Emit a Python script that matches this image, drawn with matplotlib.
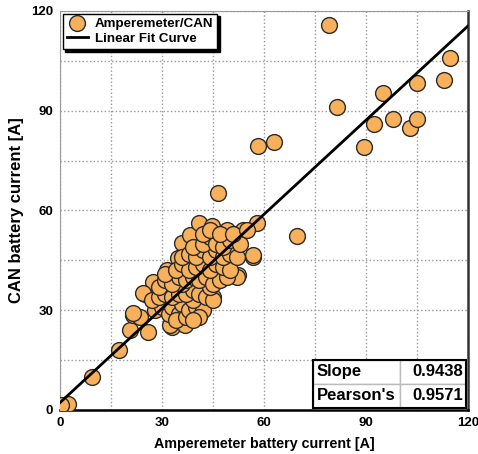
import numpy as np
import matplotlib
matplotlib.use("Agg")
import matplotlib.pyplot as plt
from matplotlib.patches import Rectangle

plt.rcParams['font.family'] = ['Liberation Sans', 'DejaVu Sans']
plt.rcParams['font.weight'] = 'bold'

# ammeter vs CAN readings [A]
amp_meas = [0.5, 1.5, 2.5, 0.3, 9.5, 17.5, 20.5, 21.5, 23.5, 26.0, 25.0, 28.0, 31.4, 32.8,
            34.8, 35.8, 38.2, 40.9, 44.6, 46.6, 49.0, 53.8, 57.9, 56.9, 52.4, 56.8,
            58.2, 63.0, 69.6, 79.1, 81.6, 89.4, 92.4, 95.1, 97.9, 102.9, 104.9, 105.0, 113.0, 114.7,
            27.5, 24.5, 33.3, 21.5, 52.0, 47.0, 45.1, 41.2, 32.4, 36.8,
            28, 30, 32, 33, 35, 36, 34, 37, 38, 40, 42, 39, 41, 39,
            27, 29, 31, 33, 35, 37, 39, 41, 43, 45, 36, 44,
            29, 31, 33, 35, 37, 39, 41, 43, 45, 47, 49,
            31, 34, 36, 38, 40, 42, 44, 46, 48, 50,
            36, 38, 40, 42, 44, 46, 48, 50, 52,
            39, 42, 44, 46, 48, 50, 53,
            42, 44, 47, 51, 55]
can_meas = [0.5, 1.2, 1.8, 1.5, 10.0, 18.0, 24.0, 28.6, 28.0, 23.5, 35.0, 38.0, 42.0, 25.0,
            45.6, 50.1, 52.6, 56.3, 55.4, 65.2, 54.0, 54.0, 56.3, 46.1, 40.6, 46.6,
            79.4, 80.5, 52.3, 115.8, 91.1, 79.1, 86.0, 95.4, 87.6, 84.9, 87.6, 98.4, 99.2, 105.9,
            38.6, 35.1, 38.6, 29.2, 40.1, 41.1, 34.1, 31.0, 25.6, 25.6,
            30, 31, 29, 31, 29, 32, 27, 28, 30, 31, 30, 33, 28, 27,
            33, 34, 35, 34, 35, 35, 36, 35, 34, 33, 38, 37,
            37, 39, 38, 40, 39, 40, 39, 40, 38, 39, 40,
            41, 42, 44, 42, 43, 44, 42, 44, 43, 42,
            46, 47, 46, 48, 46, 48, 46, 47, 46,
            49, 50, 52, 50, 49, 51, 50,
            53, 54, 53, 53, 54]

fit_slope = 0.9438
fit_intercept = 2.2
pearson = 0.9571
ticks = [0, 30, 60, 90, 120]

fig = plt.figure(figsize=(4.78, 4.54), dpi=100)
ax = fig.add_axes([0.1255, 0.097, 0.8535, 0.879])

ax.scatter(amp_meas, can_meas, s=130, color='#F8B05A', edgecolor='#2a2a2a',
           linewidth=1.0, zorder=3, label='Amperemeter/CAN')
xf = np.array([0, 120])
ax.plot(xf, fit_slope * xf + fit_intercept, color='black', lw=2, zorder=4,
        label='Linear Fit Curve')

ax.set_xlim(0, 120)
ax.set_ylim(0, 120)
ax.set_xticks(ticks)
ax.set_yticks(ticks)
ax.set_xticks(np.arange(15, 120, 30), minor=True)
ax.set_yticks(np.arange(15, 120, 30), minor=True)
ax.grid(True, which='both', ls=':', color='#999999', lw=1.0, zorder=0)
ax.tick_params(which='both', length=0, labelsize=9.5, pad=5)
for lab in ax.get_xticklabels() + ax.get_yticklabels():
    lab.set_fontweight('bold')

ax.spines['left'].set_color('#999999')
ax.spines['top'].set_color('#999999')
ax.spines['left'].set_linewidth(0.8)
ax.spines['top'].set_linewidth(0.8)
ax.spines['right'].set_color('#333333')
ax.spines['bottom'].set_color('black')
ax.spines['right'].set_linewidth(1.8)
ax.spines['bottom'].set_linewidth(1.8)

ax.set_xlabel('Amperemeter battery current [A]', fontsize=10.3, fontweight='bold', labelpad=6)
ax.set_ylabel('CAN battery current [A]', fontsize=12, fontweight='bold', labelpad=5)

leg = ax.legend(loc='upper left', fontsize=9.6, frameon=True, fancybox=False,
                borderaxespad=0.2, handlelength=1.6, handletextpad=0.5,
                borderpad=0.3, labelspacing=0.2,
                shadow={'color': 'black', 'alpha': 1.0})
leg.get_frame().set_edgecolor('black')
leg.get_frame().set_linewidth(1.0)
for t in leg.get_texts():
    t.set_fontweight('bold')

tab = ax.table(cellText=[['Slope', '%.4f' % fit_slope], ["Pearson's", '%.4f' % pearson]],
               cellLoc='left', bbox=[0.62, 0.006, 0.375, 0.12], colWidths=[0.57, 0.43],
               zorder=5)
tab.auto_set_font_size(False)
for (r, c), cell in tab.get_celld().items():
    cell.set_edgecolor('#bbbbbb')
    cell.set_linewidth(1.0)
    cell.set_facecolor('white')
    cell.get_text().set_fontsize(12)
    cell.get_text().set_fontweight('bold')
    cell.PAD = 0.04
    if c == 1:
        cell.get_text().set_horizontalalignment('right')
ax.add_patch(Rectangle((0.62, 0.006), 0.375, 0.12, transform=ax.transAxes,
                       fill=False, edgecolor='black', lw=1.5, zorder=6))

fig.savefig('out.png', dpi=100)
